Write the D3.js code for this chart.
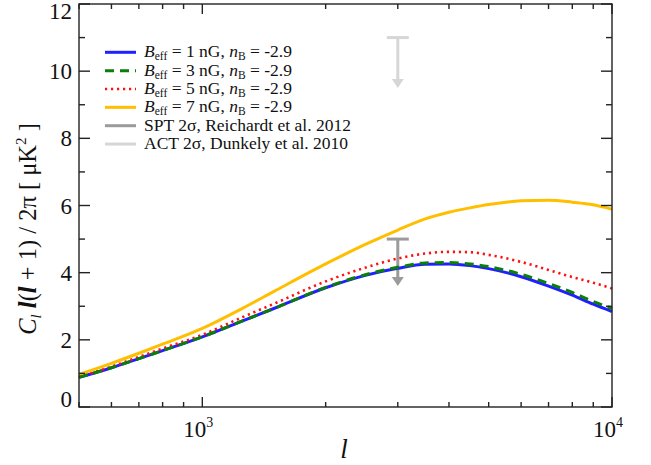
<!DOCTYPE html>
<html><head><meta charset="utf-8">
<script src="https://cdn.jsdelivr.net/npm/d3@7"></script>
<style>
html,body{margin:0;padding:0;background:#fff;}
svg text{font-family:"Liberation Serif","Times New Roman","DejaVu Serif",serif;}
</style></head>
<body><svg id="c" width="651" height="465"></svg>
<script>
const ells   = [500,600,700,800,1000,1250,1500,2000,2500,3000,3500,4000,4500,5000,6000,7000,8000,9000,10000];
const b1nG   = [0.88,1.17,1.44,1.68,2.09,2.56,2.94,3.55,3.92,4.13,4.25,4.26,4.21,4.12,3.88,3.60,3.33,3.06,2.84];
const b3nG   = [0.88,1.17,1.44,1.68,2.09,2.56,2.94,3.56,3.94,4.16,4.29,4.30,4.26,4.18,3.95,3.68,3.41,3.14,2.93];
const b5nG   = [0.90,1.20,1.49,1.74,2.15,2.67,3.08,3.74,4.15,4.42,4.57,4.62,4.61,4.53,4.32,4.08,3.87,3.70,3.53];
const b7nG   = [0.97,1.30,1.60,1.87,2.34,2.93,3.45,4.26,4.84,5.27,5.60,5.80,5.93,6.03,6.14,6.16,6.10,6.02,5.89];
const limits = [
  {name:"SPT", ell:3000, top:5.0, tip:3.6, color:"#9b9b9b"},
  {name:"ACT", ell:3000, top:11.0, tip:9.5, color:"#d6d6d6"}
];
const yTicks = [0,2,4,6,8,10,12];
const xTicks = [1000,10000];
const xTickExp = ["3","4"];
const legendB = ["1","3","5","7"];
const limLabels=["SPT 2σ, Reichardt et al. 2012","ACT 2σ, Dunkely et al. 2010"];

const FONT = "Liberation Serif, Times New Roman, DejaVu Serif, serif";
const svg = d3.select("#c").attr("font-family",FONT);
const L=79,R=612,T=4,B=407;
const x = d3.scaleLog().domain([500,10000]).range([L,R]);
const y = d3.scaleLinear().domain([0,12]).range([B,T]);

const series = [
  {v:b1nG,color:"#1f1fff",dash:null,w:3},
  {v:b3nG,color:"#0a7f0a",dash:"9,6",w:3},
  {v:b5nG,color:"#ff1010",dash:"2.2,3.8",w:2.6},
  {v:b7nG,color:"#ffbf00",dash:null,w:3}
];

// limits
limits.forEach(m=>{
  const cx=x(m.ell);
  svg.append("line").attr("x1",cx-11).attr("x2",cx+11).attr("y1",y(m.top)).attr("y2",y(m.top))
     .attr("stroke",m.color).attr("stroke-width",3);
  svg.append("line").attr("x1",cx).attr("x2",cx).attr("y1",y(m.top)).attr("y2",y(m.tip)-8)
     .attr("stroke",m.color).attr("stroke-width",3);
  const ty=y(m.tip);
  svg.append("path").attr("d",`M${cx-6},${ty-9}L${cx+6},${ty-9}L${cx},${ty}Z`).attr("fill",m.color);
});

// curves
const line = d3.line().x((d,i)=>x(ells[i])).y(d=>y(d)).curve(d3.curveMonotoneX);
[0,2,3,1].forEach(k=>{
  const s=series[k];
  svg.append("path").attr("d",line(s.v)).attr("fill","none").attr("stroke",s.color)
    .attr("stroke-width",s.w).attr("stroke-dasharray",s.dash);
});

// frame
const ax = svg.append("g").attr("stroke","#222").attr("stroke-width",1.4).attr("fill","none");
ax.append("rect").attr("x",L).attr("y",T).attr("width",R-L).attr("height",B-T);

// y ticks
for(let v=0; v<=12; v+=1){
  const len = (v%2===0)?11:6;
  ax.append("line").attr("x1",L).attr("x2",L+len).attr("y1",y(v)).attr("y2",y(v));
  ax.append("line").attr("x1",R).attr("x2",R-len).attr("y1",y(v)).attr("y2",y(v));
}
// x ticks
const minors=[];
[100,1000].forEach(dec=>{for(let k=1;k<10;k++){const v=k*dec; if(v>=500&&v<=10000) minors.push(v);}});
minors.push(10000);
minors.forEach(v=>{
  const major = (v===1000||v===10000);
  const len = major?10:5;
  ax.append("line").attr("x1",x(v)).attr("x2",x(v)).attr("y1",B).attr("y2",B-len);
  ax.append("line").attr("x1",x(v)).attr("x2",x(v)).attr("y1",T).attr("y2",T+len);
});

// y tick labels
yTicks.forEach(v=>{
  let yy = y(v)+8;
  if(v===12) yy = 19;
  if(v===0) yy = 407;
  svg.append("text").attr("x",72).attr("y",yy).attr("text-anchor","end")
     .attr("font-size",23).attr("fill","#111").text(v);
});
// x tick labels
xTicks.forEach((v,i)=>{
  const t=svg.append("text").attr("x",x(v)-4).attr("y",437).attr("text-anchor","middle")
     .attr("font-size",23).attr("fill","#111");
  t.append("tspan").text("10");
  t.append("tspan").attr("font-size",14).attr("dy",-10).text(xTickExp[i]);
});
// x label
svg.append("text").attr("x",344).attr("y",458).attr("text-anchor","middle").attr("font-size",27)
  .attr("font-style","italic").attr("fill","#111").text("l");

// y label
const yl = svg.append("text").attr("transform","translate(36,229) rotate(-90)").attr("text-anchor","middle")
  .attr("font-size",24.5).attr("fill","#111");
yl.append("tspan").attr("font-style","italic").text("C");
yl.append("tspan").attr("font-style","italic").attr("font-size",15).attr("dy",5).text("l");
yl.append("tspan").attr("dy",-5).text(" ");
yl.append("tspan").attr("font-style","italic").attr("font-weight","bold").text("l");
yl.append("tspan").text("(");
yl.append("tspan").attr("font-style","italic").attr("font-weight","bold").text("l");
yl.append("tspan").text(" + 1) / 2π [ μK");
yl.append("tspan").attr("font-size",15).attr("dy",-10).text("2");
yl.append("tspan").attr("dy",10).text(" ]");

// legend
const lg = svg.append("g");
const rowY = i=>52.3+18.35*i;
series.forEach((s,i)=>{
  lg.append("line").attr("x1",105).attr("x2",136).attr("y1",rowY(i)).attr("y2",rowY(i))
    .attr("stroke",s.color).attr("stroke-width",s.w).attr("stroke-dasharray",s.dash);
  const t=lg.append("text").attr("x",144).attr("y",rowY(i)+5).attr("font-size",17.5).attr("fill","#111");
  t.append("tspan").attr("font-style","italic").text("B");
  t.append("tspan").attr("font-size",11.5).attr("dy",3).text("eff");
  t.append("tspan").attr("dy",-3).text(` = ${legendB[i]} nG, `);
  t.append("tspan").attr("font-style","italic").text("n");
  t.append("tspan").attr("font-size",11.5).attr("dy",3).text("B");
  t.append("tspan").attr("dy",-3).text(" = -2.9");
});
limits.forEach((m,j)=>{
  const i=4+j;
  lg.append("line").attr("x1",105).attr("x2",136).attr("y1",rowY(i)).attr("y2",rowY(i))
    .attr("stroke",m.color).attr("stroke-width",3);
  lg.append("text").attr("x",144).attr("y",rowY(i)+5).attr("font-size",17.5).attr("fill","#111").text(limLabels[j]);
});
</script></body></html>
